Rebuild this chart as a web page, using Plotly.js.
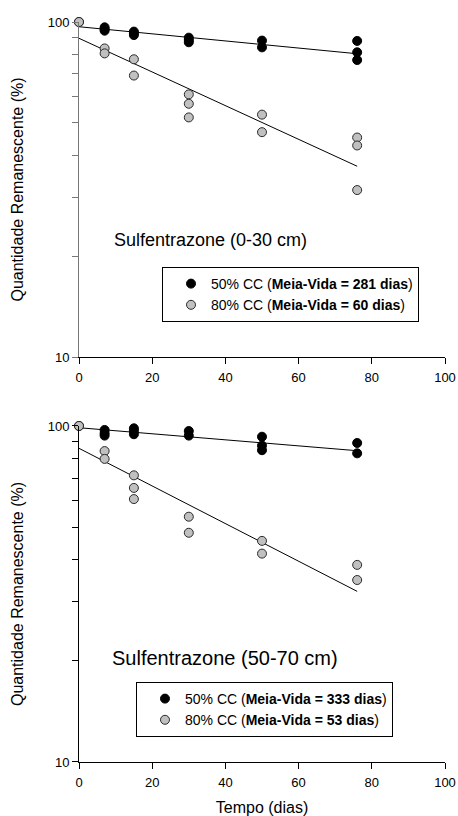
<!DOCTYPE html>
<html>
<head>
<meta charset="utf-8">
<script src="https://cdn.plot.ly/plotly-3.0.1.min.js"></script>
<style>html,body{margin:0;padding:0;background:#fff;}#chart{width:458px;height:816px;}</style>
</head>
<body>
<div id="chart"></div>
<script>
// ---- Data ----
// Top panel: Sulfentrazone (0-30 cm)
var top50X = [0, 7, 7, 7, 15, 15, 15, 30, 30, 30, 50, 50, 76, 76, 76];
var top50Y = [100, 96.4, 95.2, 94.2, 93.6, 92.5, 91.4, 89.8, 88.4, 87.0, 88.0, 84.0, 87.8, 81.2, 77.0];
var top80X = [0, 7, 7, 15, 15, 30, 30, 30, 50, 50, 76, 76, 76];
var top80Y = [100, 83.4, 80.6, 77.4, 69.2, 60.8, 57.0, 51.9, 52.9, 46.9, 45.2, 42.8, 31.5];
var topFitX = [0, 76];
var topFit50Y = [96.8, 80.4];
var topFit80Y = [89.4, 37.1];

// Bottom panel: Sulfentrazone (50-70 cm)
var bot50X = [0, 7, 7, 7, 15, 15, 15, 30, 30, 50, 50, 50, 76, 76];
var bot50Y = [100, 97.3, 95.1, 93.6, 98.4, 96.8, 94.5, 96.6, 93.6, 92.9, 87.4, 84.7, 89.0, 82.9];
var bot80X = [0, 7, 7, 15, 15, 15, 30, 30, 50, 50, 76, 76];
var bot80Y = [100, 84.2, 79.8, 71.3, 65.4, 60.6, 53.7, 48.1, 45.5, 41.7, 38.6, 34.8];
var botFitX = [0, 76];
var botFit50Y = [98.8, 84.4];
var botFit80Y = [85.8, 32.2];

var topNames = ['50% CC (<b>Meia-Vida = 281 dias</b>)', '80% CC (<b>Meia-Vida = 60 dias</b>)'];
var botNames = ['50% CC (<b>Meia-Vida = 333 dias</b>)', '80% CC (<b>Meia-Vida = 53 dias</b>)'];
var panelLabels = ['Sulfentrazone (0-30 cm)', 'Sulfentrazone (50-70 cm)'];
var xTicks = [0, 20, 40, 60, 80, 100];
var yTicks = [10, 20, 30, 40, 50, 60, 70, 80, 90, 100];
var yTickText = ['10', '', '', '', '', '', '', '', '', '100'];
var xTitle = 'Tempo (dias)';
var yTitle = 'Quantidade Remanescente (%)';

// ---- Styles ----
var FONT = 'Liberation Sans, Arial, Helvetica, sans-serif';
var blackMarker = {size: 9, color: '#000000', line: {color: '#000000', width: 1}};
var grayMarker = {size: 9, color: '#c0c0c0', line: {color: '#2a2a2a', width: 1}};
var fitLine = {color: '#000000', width: 1};

var traces = [
  {x: topFitX, y: topFit50Y, xaxis: 'x', yaxis: 'y', mode: 'lines', line: fitLine, showlegend: false, hoverinfo: 'skip'},
  {x: topFitX, y: topFit80Y, xaxis: 'x', yaxis: 'y', mode: 'lines', line: fitLine, showlegend: false, hoverinfo: 'skip'},
  {x: top50X, y: top50Y, xaxis: 'x', yaxis: 'y', mode: 'markers', marker: blackMarker, name: topNames[0], legend: 'legend', cliponaxis: false},
  {x: top80X, y: top80Y, xaxis: 'x', yaxis: 'y', mode: 'markers', marker: grayMarker, name: topNames[1], legend: 'legend', cliponaxis: false},
  {x: botFitX, y: botFit50Y, xaxis: 'x2', yaxis: 'y2', mode: 'lines', line: fitLine, showlegend: false, hoverinfo: 'skip'},
  {x: botFitX, y: botFit80Y, xaxis: 'x2', yaxis: 'y2', mode: 'lines', line: fitLine, showlegend: false, hoverinfo: 'skip'},
  {x: bot50X, y: bot50Y, xaxis: 'x2', yaxis: 'y2', mode: 'markers', marker: blackMarker, name: botNames[0], legend: 'legend2', cliponaxis: false},
  {x: bot80X, y: bot80Y, xaxis: 'x2', yaxis: 'y2', mode: 'markers', marker: grayMarker, name: botNames[1], legend: 'legend2', cliponaxis: false}
];

function xAxis(anchor, withTitle) {
  var a = {
    anchor: anchor, domain: [0, 1], range: [0, 100], tickvals: xTicks, ticktext: xTicks.map(String),
    ticks: 'outside', ticklen: 6, tickcolor: '#000', tickwidth: 1, ticklabelstandoff: 2,
    showline: true, linecolor: '#000', linewidth: 1, showgrid: false, zeroline: false,
    tickfont: {family: FONT, size: 13, color: '#000'}, fixedrange: true
  };
  if (withTitle) a.title = {text: xTitle, font: {family: FONT, size: 16, color: '#000'}, standoff: 20};
  return a;
}
function yAxis(anchor, domain, lineColor) {
  return {
    anchor: anchor, domain: domain, type: 'log', range: [1, 2],
    tickvals: yTicks, ticktext: yTickText,
    ticks: 'outside', ticklen: 6, tickcolor: lineColor, tickwidth: 1,
    showline: true, linecolor: lineColor, linewidth: 1, showgrid: false, zeroline: false,
    tickfont: {family: FONT, size: 13, color: '#000'}, fixedrange: true,
    title: {text: yTitle, font: {family: FONT, size: 16, color: '#000'}, standoff: 20}
  };
}

var legendBase = {
  xanchor: 'left', yanchor: 'top', bgcolor: '#ffffff', bordercolor: '#000000', borderwidth: 1,
  font: {family: FONT, size: 14, color: '#000'}, indentation: 8, traceorder: 'normal'
};

var layout = {
  width: 458, height: 816,
  margin: {l: 79, r: 13, t: 22, b: 54},
  paper_bgcolor: '#ffffff', plot_bgcolor: '#ffffff',
  font: {family: FONT, color: '#000'},
  xaxis: xAxis('y', false),
  yaxis: yAxis('x', [0.5473, 1], '#777777'),
  xaxis2: xAxis('y2', true),
  yaxis2: yAxis('x2', [0, 0.4541], '#000000'),
  legend: Object.assign({}, legendBase, {x: 0.2268, y: 0.6689}),
  legend2: Object.assign({}, legendBase, {x: 0.1557, y: 0.1081}),
  showlegend: true,
  annotations: [
    {xref: 'paper', yref: 'paper', x: 0.0902, y: 0.7054, xanchor: 'left', yanchor: 'middle', showarrow: false,
     text: panelLabels[0], font: {family: FONT, size: 18, color: '#000'}},
    {xref: 'paper', yref: 'paper', x: 0.0847, y: 0.1405, xanchor: 'left', yanchor: 'middle', showarrow: false,
     text: panelLabels[1], font: {family: FONT, size: 20, color: '#000'}}
  ]
};

Plotly.newPlot('chart', traces, layout, {displayModeBar: false, staticPlot: true});
</script>
</body>
</html>
